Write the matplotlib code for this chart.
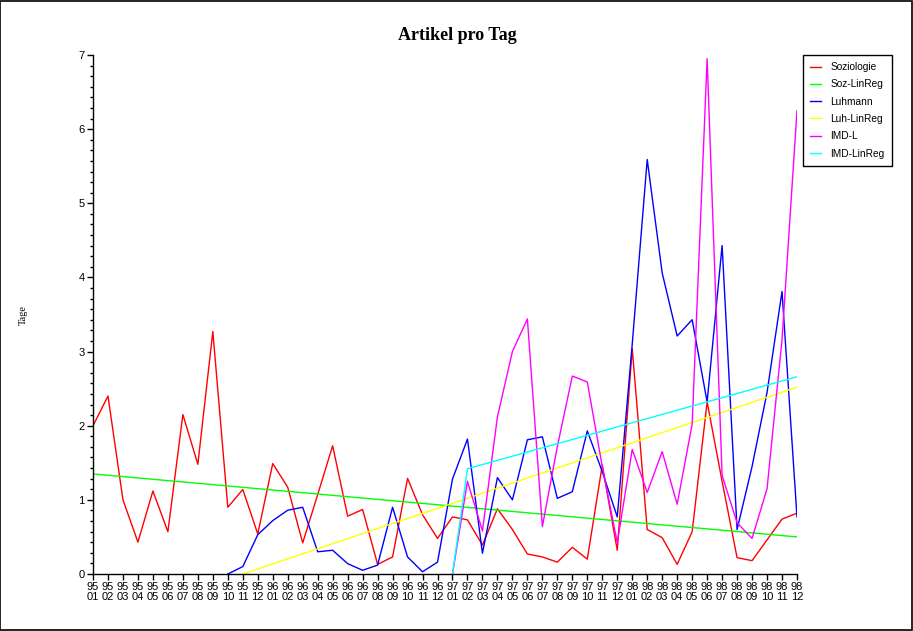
import numpy as np
import matplotlib
matplotlib.use("Agg")
import matplotlib.pyplot as plt
from matplotlib.ticker import MultipleLocator
from matplotlib.patches import Rectangle

nan = np.nan

# months 95/01 .. 98/12
years = ["95", "96", "97", "98"]
months = ["01", "02", "03", "04", "05", "06", "07", "08", "09", "10", "11", "12"]
tick_labels = [y + "\n" + m for y in years for m in months]

soziologie = [2.0, 2.4, 1.0, 0.43, 1.12, 0.57, 2.15, 1.48, 3.27, 0.9, 1.14, 0.54,
              1.49, 1.17, 0.42, 1.07, 1.73, 0.78, 0.87, 0.13, 0.23, 1.29, 0.80, 0.48,
              0.77, 0.73, 0.39, 0.88, 0.60, 0.27, 0.23, 0.16, 0.36, 0.20, 1.47, 0.32,
              3.04, 0.60, 0.49, 0.13, 0.57, 2.32, 1.25, 0.22, 0.18, 0.46, 0.74, 0.82]

luhmann = [nan, nan, nan, nan, nan, nan, nan, nan, nan, 0.0, 0.10, 0.53,
           0.72, 0.86, 0.90, 0.30, 0.32, 0.14, 0.05, 0.12, 0.90, 0.23, 0.03, 0.16,
           1.28, 1.82, 0.28, 1.30, 1.00, 1.81, 1.85, 1.02, 1.11, 1.93, 1.38, 0.77,
           3.10, 5.59, 4.06, 3.21, 3.43, 2.32, 4.43, 0.60, 1.45, 2.45, 3.81, 0.77]

imd_l = [nan] * 24 + [
         0.0, 1.25, 0.58, 2.12, 3.00, 3.44, 0.64, 1.72, 2.67, 2.59, 1.45, 0.42,
         1.68, 1.10, 1.65, 0.94, 2.02, 6.95, 1.33, 0.69, 0.48, 1.15, 3.16, 6.25]

# regression lines (month index, value)
soz_reg_x = [0, 47]
soz_reg = [1.35, 0.50]
luh_reg_x = [10, 47]
luh_reg = [0.0, 2.52]
imd_reg_x = [24, 25, 47]
imd_reg = [0.0, 1.42, 2.66]

x = np.arange(len(tick_labels))

fig = plt.figure(figsize=(9.13, 6.31), dpi=100)
ax = fig.add_axes([93 / 913, 57 / 631, 704 / 913, 519 / 631])

lw = 1.0
ax.plot(x, soziologie, color="#ff0000", lw=lw, label="Soziologie")
ax.plot(soz_reg_x, soz_reg, color="#00ff00", lw=lw, label="Soz-LinReg")
ax.plot(x, luhmann, color="#0000ff", lw=lw, label="Luhmann")
ax.plot(luh_reg_x, luh_reg, color="#ffff00", lw=lw, label="Luh-LinReg")
ax.plot(x, imd_l, color="#ff00ff", lw=lw, label="IMD-L")
ax.plot(imd_reg_x, imd_reg, color="#00ffff", lw=lw, label="IMD-LinReg")

ax.set_xlim(0, 47)
ax.set_ylim(0, 7)
ax.set_xticks(x)
ax.set_xticklabels(tick_labels, fontsize=8, family="Liberation Sans", linespacing=0.95)
ax.yaxis.set_major_locator(MultipleLocator(1))
ax.yaxis.set_minor_locator(MultipleLocator(1 / 7))
for lab in ax.get_yticklabels():
    lab.set_family("Liberation Sans")
    lab.set_fontsize(8)
ax.tick_params(axis="both", direction="out", length=4, width=1, pad=2, colors="black")
ax.tick_params(axis="y", which="minor", length=2, width=1)
ax.spines["top"].set_visible(False)
ax.spines["right"].set_visible(False)
ax.spines["left"].set_linewidth(1)
ax.spines["bottom"].set_linewidth(1)

fig.text(457 / 913, 1 - 35 / 631, "Artikel pro Tag", ha="center", va="center",
         family="Liberation Serif", weight="bold", fontsize=13)
fig.text(23 / 913, 1 - 315 / 631, "Tage", ha="center", va="center", rotation=90,
         family="Liberation Serif", fontsize=7.5)

leg = fig.legend(loc="upper left", bbox_to_anchor=(803 / 913, 1 - 55 / 631),
                 prop={"family": "Liberation Sans", "size": 7.3},
                 fancybox=False, edgecolor="black", framealpha=1,
                 handlelength=1.1, handletextpad=0.9, labelspacing=0.72,
                 borderpad=0.7, borderaxespad=0)
leg.get_frame().set_linewidth(1)

# outer frame of the picture
fig.patches.append(Rectangle((0.0005, 0.0008), 0.998, 0.998, transform=fig.transFigure,
                             fill=False, edgecolor="black", lw=1.2))

fig.savefig("out.png", dpi=100)
